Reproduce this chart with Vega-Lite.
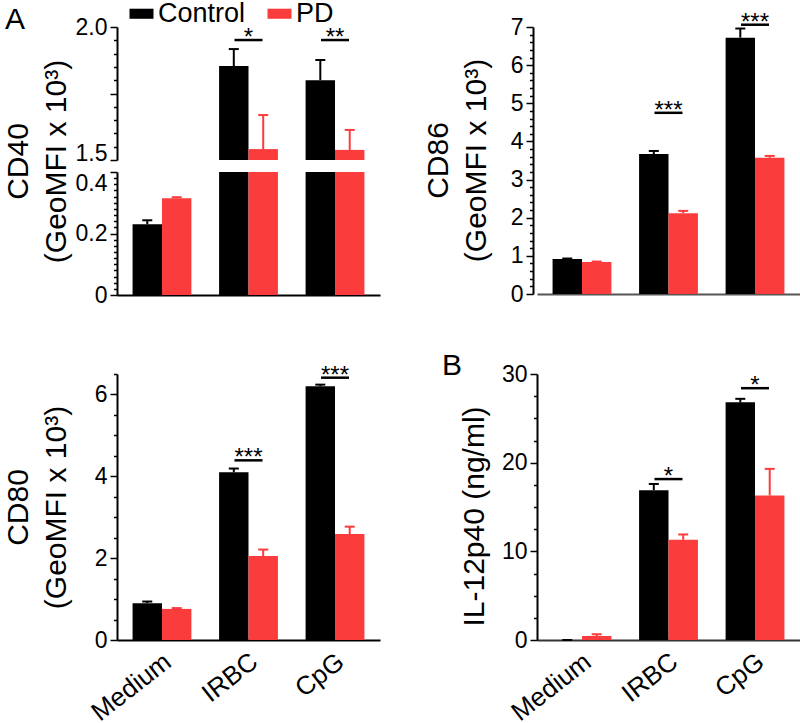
{
  "$schema": "https://vega.github.io/schema/vega-lite/v6.json",
  "padding": {"left": 3, "top": 0, "right": 0, "bottom": 0},
  "config": {
    "font": "Liberation Sans",
    "view": {"stroke": null},
    "tick": {"opacity": 1},
    "axis": {"domainColor": "black", "domainWidth": 2, "tickColor": "black", "tickWidth": 1.5, "labelColor": "black", "titleColor": "black", "labelFontSize": 23, "titleFontSize": 30, "titleFontWeight": "normal", "grid": false, "labelFont": "Liberation Sans", "titleFont": "Liberation Sans", "labelPadding": 3, "labelOverlap": false},
    "legend": {"orient": "none", "legendX": 11, "legendY": -27, "direction": "horizontal", "title": null, "labelFontSize": 27, "labelColor": "black", "labelFont": "Liberation Sans", "symbolType": "M-1,-0.42H1V0.42H-1Z", "symbolSize": 576, "symbolStrokeWidth": 0, "symbolOpacity": 1, "labelOffset": 3, "columnPadding": 20}
  },
  "datasets": {
    "cd40": [
      {"stim": "Medium", "group": "Control", "mean": 0.23, "hi": 0.243},
      {"stim": "Medium", "group": "PD", "mean": 0.315, "hi": 0.318},
      {"stim": "IRBC", "group": "Control", "mean": 1.853, "hi": 1.917},
      {"stim": "IRBC", "group": "PD", "mean": 1.541, "hi": 1.669},
      {"stim": "CpG", "group": "Control", "mean": 1.80, "hi": 1.876},
      {"stim": "CpG", "group": "PD", "mean": 1.538, "hi": 1.613}
    ],
    "cd86": [
      {"stim": "Medium", "group": "Control", "mean": 0.92, "hi": 0.93},
      {"stim": "Medium", "group": "PD", "mean": 0.84, "hi": 0.85},
      {"stim": "IRBC", "group": "Control", "mean": 3.67, "hi": 3.75},
      {"stim": "IRBC", "group": "PD", "mean": 2.12, "hi": 2.18},
      {"stim": "CpG", "group": "Control", "mean": 6.72, "hi": 6.96},
      {"stim": "CpG", "group": "PD", "mean": 3.57, "hi": 3.62}
    ],
    "cd80": [
      {"stim": "Medium", "group": "Control", "mean": 0.90, "hi": 0.94},
      {"stim": "Medium", "group": "PD", "mean": 0.76, "hi": 0.78},
      {"stim": "IRBC", "group": "Control", "mean": 4.10, "hi": 4.19},
      {"stim": "IRBC", "group": "PD", "mean": 2.05, "hi": 2.21},
      {"stim": "CpG", "group": "Control", "mean": 6.20, "hi": 6.24},
      {"stim": "CpG", "group": "PD", "mean": 2.59, "hi": 2.77}
    ],
    "il12": [
      {"stim": "Medium", "group": "Control", "mean": 0, "hi": 0},
      {"stim": "Medium", "group": "PD", "mean": 0.45, "hi": 0.65},
      {"stim": "IRBC", "group": "Control", "mean": 16.9, "hi": 17.6},
      {"stim": "IRBC", "group": "PD", "mean": 11.3, "hi": 11.9},
      {"stim": "CpG", "group": "Control", "mean": 26.8, "hi": 27.2},
      {"stim": "CpG", "group": "PD", "mean": 16.3, "hi": 19.3}
    ],
    "sig40": [
      {"stim": "IRBC", "y": 1.951, "label": "*"},
      {"stim": "CpG", "y": 1.951, "label": "**"}
    ],
    "sig86": [
      {"stim": "IRBC", "y": 4.75, "label": "***"},
      {"stim": "CpG", "y": 7.06, "label": "***"}
    ],
    "sig80": [
      {"stim": "IRBC", "y": 4.39, "label": "***"},
      {"stim": "CpG", "y": 6.41, "label": "***"}
    ],
    "sig12": [
      {"stim": "IRBC", "y": 18.15, "label": "*"},
      {"stim": "CpG", "y": 28.4, "label": "*"}
    ]
  },
  "resolve": {"scale": {"color": "shared"}, "legend": {"color": "shared"}},
  "bounds": "flush",
  "columns": 2,
  "spacing": {"row": 79, "column": 157},
  "concat": [
    {
      "width": 263, "height": 268,
      "title": {"text": "A", "anchor": "start", "frame": "group", "orient": "top", "dx": -112, "offset": 0, "dy": 43, "baseline": "alphabetic", "fontSize": 30, "fontWeight": "normal", "font": "Liberation Sans", "color": "black"},
      "resolve": {"scale": {"y": "independent"}, "axis": {"y": "independent"}},
      "layer": [
        {
          "layer": [
            {"data": {"name": "cd40"}, "mark": {"type": "bar"},
             "encoding": {
               "x": {"field": "stim", "type": "nominal", "scale": {"domain": ["Medium", "IRBC", "CpG"], "paddingInner": 0.32, "paddingOuter": 0.18}, "axis": {"labels": false, "ticks": false, "title": null}},
               "xOffset": {"field": "group", "type": "nominal", "scale": {"domain": ["Control", "PD"]}},
               "y": {"field": "mean", "type": "quantitative", "scale": {"domain": [1.5, 2.0], "range": [133, 0], "zero": false, "nice": false, "clamp": true},
                     "title": ["CD40", "(GeoMFI x 10³)"],
                     "axis": {"orient": "left", "tickCount": 200, "labelOverlap": false, "values": [1.5, 1.55, 1.6, 1.65, 1.7, 1.75, 1.8, 1.85, 1.9, 1.95, 2.0],
                              "labelExpr": "datum.value==1.5||datum.value==2?format(datum.value,'.1f'):''",
                              "labelBaseline": {"condition": {"test": "datum.value==1.5", "value": "alphabetic"}, "value": "middle"},
                              "tickSize": {"condition": {"test": "datum.value==1.5||datum.value==1.75||datum.value==2", "value": 7}, "value": 3.5},
                              "titleX": -114, "titleY": 134, "titleBaseline": "top", "titleAlign": "center", "titleAngle": -90, "titleLineHeight": 38}},
               "color": {"field": "group", "type": "nominal", "scale": {"domain": ["Control", "PD"], "range": ["#000000", "#fb3c3c"]}}
             }},
            {"data": {"name": "cd40"}, "transform": [{"filter": "datum.mean >= 1.5"}], "mark": {"type": "rule", "strokeWidth": 2},
             "encoding": {
               "x": {"field": "stim", "type": "nominal"},
               "xOffset": {"field": "group", "type": "nominal"},
               "y": {"field": "mean", "type": "quantitative"},
               "y2": {"field": "hi"},
               "color": {"field": "group", "type": "nominal"}
             }},
            {"data": {"name": "cd40"}, "transform": [{"filter": "datum.mean >= 1.5"}], "mark": {"type": "tick", "size": 10, "thickness": 2, "opacity": 1},
             "encoding": {
               "x": {"field": "stim", "type": "nominal"},
               "xOffset": {"field": "group", "type": "nominal"},
               "y": {"field": "hi", "type": "quantitative"},
               "color": {"field": "group", "type": "nominal"}
             }},
            {"data": {"name": "sig40"}, "mark": {"type": "tick", "size": 28, "thickness": 2.5, "color": "black", "opacity": 1},
             "encoding": {"x": {"field": "stim", "type": "nominal"}, "y": {"field": "y", "type": "quantitative"}}},
            {"data": {"name": "sig40"}, "mark": {"type": "text", "fontSize": 24, "dy": 5, "baseline": "alphabetic", "color": "black"},
             "encoding": {"x": {"field": "stim", "type": "nominal"}, "y": {"field": "y", "type": "quantitative"}, "text": {"field": "label"}}}
          ]
        },
        {
          "layer": [
            {"data": {"name": "cd40"}, "mark": {"type": "bar"},
             "encoding": {
               "x": {"field": "stim", "type": "nominal"},
               "xOffset": {"field": "group", "type": "nominal"},
               "y": {"field": "mean", "type": "quantitative", "scale": {"domain": [0, 0.4], "range": [268, 145], "nice": false, "clamp": true},
                     "title": null,
                     "axis": {"orient": "left", "tickCount": 200, "labelOverlap": false, "values": [0, 0.02, 0.04, 0.06, 0.08, 0.1, 0.12, 0.14, 0.16, 0.18, 0.2, 0.22, 0.24, 0.26, 0.28, 0.3, 0.32, 0.34, 0.36, 0.38, 0.4],
                              "labelExpr": "datum.value==0?'0':(datum.value==0.2||datum.value==0.4)?format(datum.value,'.1f'):''",
                              "labelBaseline": {"condition": {"test": "datum.value==0.4", "value": "top"}, "value": "middle"},
                              "tickSize": {"condition": {"test": "datum.value==0||datum.value==0.2||datum.value==0.4", "value": 7}, "value": 3.5}}},
               "color": {"field": "group", "type": "nominal"}
             }},
            {"data": {"name": "cd40"}, "transform": [{"filter": "datum.hi <= 0.4"}], "mark": {"type": "rule", "strokeWidth": 2},
             "encoding": {
               "x": {"field": "stim", "type": "nominal"},
               "xOffset": {"field": "group", "type": "nominal"},
               "y": {"field": "mean", "type": "quantitative"},
               "y2": {"field": "hi"},
               "color": {"field": "group", "type": "nominal"}
             }},
            {"data": {"name": "cd40"}, "transform": [{"filter": "datum.hi <= 0.4"}], "mark": {"type": "tick", "size": 10, "thickness": 2, "opacity": 1},
             "encoding": {
               "x": {"field": "stim", "type": "nominal"},
               "xOffset": {"field": "group", "type": "nominal"},
               "y": {"field": "hi", "type": "quantitative"},
               "color": {"field": "group", "type": "nominal"}
             }}
          ]
        }
      ]
    },
    {
      "width": 263, "height": 267,
      "layer": [
        {"data": {"name": "cd86"}, "mark": {"type": "bar"},
         "encoding": {
           "x": {"field": "stim", "type": "nominal", "scale": {"domain": ["Medium", "IRBC", "CpG"], "paddingInner": 0.32, "paddingOuter": 0.18}, "axis": {"labels": false, "ticks": false, "title": null, "domainColor": "#555"}},
           "xOffset": {"field": "group", "type": "nominal", "scale": {"domain": ["Control", "PD"]}},
           "y": {"field": "mean", "type": "quantitative", "scale": {"domain": [0, 7], "nice": false},
                 "title": ["CD86", "(GeoMFI x 10³)"],
                 "axis": {"offset": 4, "tickCount": 200, "labelOverlap": false, "values": [0, 0.2, 0.4, 0.6, 0.8, 1, 1.2, 1.4, 1.6, 1.8, 2, 2.2, 2.4, 2.6, 2.8, 3, 3.2, 3.4, 3.6, 3.8, 4, 4.2, 4.4, 4.6, 4.8, 5, 5.2, 5.4, 5.6, 5.8, 6, 6.2, 6.4, 6.6, 6.8, 7],
                          "labelExpr": "abs(datum.value-round(datum.value))<0.001?format(datum.value,'d'):''",
                          "tickSize": {"condition": {"test": "abs(datum.value-round(datum.value))<0.001", "value": 7}, "value": 3.5},
                          "titleX": -110, "titleY": 133, "titleBaseline": "top", "titleAlign": "center", "titleAngle": -90, "titleLineHeight": 38}},
           "color": {"field": "group", "type": "nominal"}
         }},
        {"data": {"name": "cd86"}, "mark": {"type": "rule", "strokeWidth": 2},
         "encoding": {
           "x": {"field": "stim", "type": "nominal"},
           "xOffset": {"field": "group", "type": "nominal"},
           "y": {"field": "mean", "type": "quantitative"},
           "y2": {"field": "hi"},
           "color": {"field": "group", "type": "nominal"}
         }},
        {"data": {"name": "cd86"}, "mark": {"type": "tick", "size": 10, "thickness": 2, "opacity": 1},
         "encoding": {
           "x": {"field": "stim", "type": "nominal"},
           "xOffset": {"field": "group", "type": "nominal"},
           "y": {"field": "hi", "type": "quantitative"},
           "color": {"field": "group", "type": "nominal"}
         }},
        {"data": {"name": "sig86"}, "mark": {"type": "tick", "size": 28, "thickness": 2.5, "color": "black", "opacity": 1},
         "encoding": {"x": {"field": "stim", "type": "nominal"}, "y": {"field": "y", "type": "quantitative"}}},
        {"data": {"name": "sig86"}, "mark": {"type": "text", "fontSize": 24, "dy": 5, "baseline": "alphabetic", "color": "black"},
         "encoding": {"x": {"field": "stim", "type": "nominal"}, "y": {"field": "y", "type": "quantitative"}, "text": {"field": "label"}}}
      ]
    },
    {
      "width": 263, "height": 266,
      "layer": [
        {"data": {"name": "cd80"}, "mark": {"type": "bar"},
         "encoding": {
           "x": {"field": "stim", "type": "nominal", "scale": {"domain": ["Medium", "IRBC", "CpG"], "paddingInner": 0.32, "paddingOuter": 0.18}, "axis": {"labelAngle": -38, "labelFontSize": 26, "ticks": false, "labelPadding": 8, "labelOffset": -2, "title": null}},
           "xOffset": {"field": "group", "type": "nominal", "scale": {"domain": ["Control", "PD"]}},
           "y": {"field": "mean", "type": "quantitative", "scale": {"domain": [0, 6.5], "nice": false},
                 "title": ["CD80", "(GeoMFI x 10³)"],
                 "axis": {"tickCount": 200, "labelOverlap": false, "values": [0, 0.5, 1, 1.5, 2, 2.5, 3, 3.5, 4, 4.5, 5, 5.5, 6, 6.5],
                          "labelExpr": "datum.value%2==0?format(datum.value,'d'):''",
                          "tickSize": {"condition": {"test": "datum.value%2==0", "value": 7}, "value": 3.5},
                          "titleX": -114, "titleY": 133, "titleBaseline": "top", "titleAlign": "center", "titleAngle": -90, "titleLineHeight": 38}},
           "color": {"field": "group", "type": "nominal"}
         }},
        {"data": {"name": "cd80"}, "mark": {"type": "rule", "strokeWidth": 2},
         "encoding": {
           "x": {"field": "stim", "type": "nominal"},
           "xOffset": {"field": "group", "type": "nominal"},
           "y": {"field": "mean", "type": "quantitative"},
           "y2": {"field": "hi"},
           "color": {"field": "group", "type": "nominal"}
         }},
        {"data": {"name": "cd80"}, "mark": {"type": "tick", "size": 10, "thickness": 2, "opacity": 1},
         "encoding": {
           "x": {"field": "stim", "type": "nominal"},
           "xOffset": {"field": "group", "type": "nominal"},
           "y": {"field": "hi", "type": "quantitative"},
           "color": {"field": "group", "type": "nominal"}
         }},
        {"data": {"name": "sig80"}, "mark": {"type": "tick", "size": 28, "thickness": 2.5, "color": "black", "opacity": 1},
         "encoding": {"x": {"field": "stim", "type": "nominal"}, "y": {"field": "y", "type": "quantitative"}}},
        {"data": {"name": "sig80"}, "mark": {"type": "text", "fontSize": 24, "dy": 5, "baseline": "alphabetic", "color": "black"},
         "encoding": {"x": {"field": "stim", "type": "nominal"}, "y": {"field": "y", "type": "quantitative"}, "text": {"field": "label"}}}
      ]
    },
    {
      "width": 263, "height": 266,
      "title": {"text": "B", "anchor": "start", "frame": "group", "orient": "top", "dx": -95, "offset": 0, "dy": 42, "baseline": "alphabetic", "fontSize": 30, "fontWeight": "normal", "font": "Liberation Sans", "color": "black"},
      "layer": [
        {"data": {"name": "il12"}, "mark": {"type": "bar"},
         "encoding": {
           "x": {"field": "stim", "type": "nominal", "scale": {"domain": ["Medium", "IRBC", "CpG"], "paddingInner": 0.32, "paddingOuter": 0.18}, "axis": {"labelAngle": -38, "labelFontSize": 26, "ticks": false, "labelPadding": 8, "labelOffset": -2, "title": null, "domainColor": "#333"}},
           "xOffset": {"field": "group", "type": "nominal", "scale": {"domain": ["Control", "PD"]}},
           "y": {"field": "mean", "type": "quantitative", "scale": {"domain": [0, 30], "nice": false},
                 "title": "IL-12p40 (ng/ml)",
                 "axis": {"tickCount": 200, "labelOverlap": false, "values": [0, 2.5, 5, 7.5, 10, 12.5, 15, 17.5, 20, 22.5, 25, 27.5, 30],
                          "labelExpr": "datum.value%10==0?format(datum.value,'d'):''",
                          "tickSize": {"condition": {"test": "datum.value%10==0", "value": 7}, "value": 3.5},
                          "titleX": -78, "titleY": 142, "titleBaseline": "top", "titleAlign": "center", "titleAngle": -90}},
           "color": {"field": "group", "type": "nominal"}
         }},
        {"data": {"name": "il12"}, "mark": {"type": "rule", "strokeWidth": 2},
         "encoding": {
           "x": {"field": "stim", "type": "nominal"},
           "xOffset": {"field": "group", "type": "nominal"},
           "y": {"field": "mean", "type": "quantitative"},
           "y2": {"field": "hi"},
           "color": {"field": "group", "type": "nominal"}
         }},
        {"data": {"name": "il12"}, "mark": {"type": "tick", "size": 10, "thickness": 2, "opacity": 1},
         "encoding": {
           "x": {"field": "stim", "type": "nominal"},
           "xOffset": {"field": "group", "type": "nominal"},
           "y": {"field": "hi", "type": "quantitative"},
           "color": {"field": "group", "type": "nominal"}
         }},
        {"data": {"name": "sig12"}, "mark": {"type": "tick", "size": 28, "thickness": 2.5, "color": "black", "opacity": 1},
         "encoding": {"x": {"field": "stim", "type": "nominal"}, "y": {"field": "y", "type": "quantitative"}}},
        {"data": {"name": "sig12"}, "mark": {"type": "text", "fontSize": 24, "dy": 5, "baseline": "alphabetic", "color": "black"},
         "encoding": {"x": {"field": "stim", "type": "nominal"}, "y": {"field": "y", "type": "quantitative"}, "text": {"field": "label"}}}
      ]
    }
  ]
}
